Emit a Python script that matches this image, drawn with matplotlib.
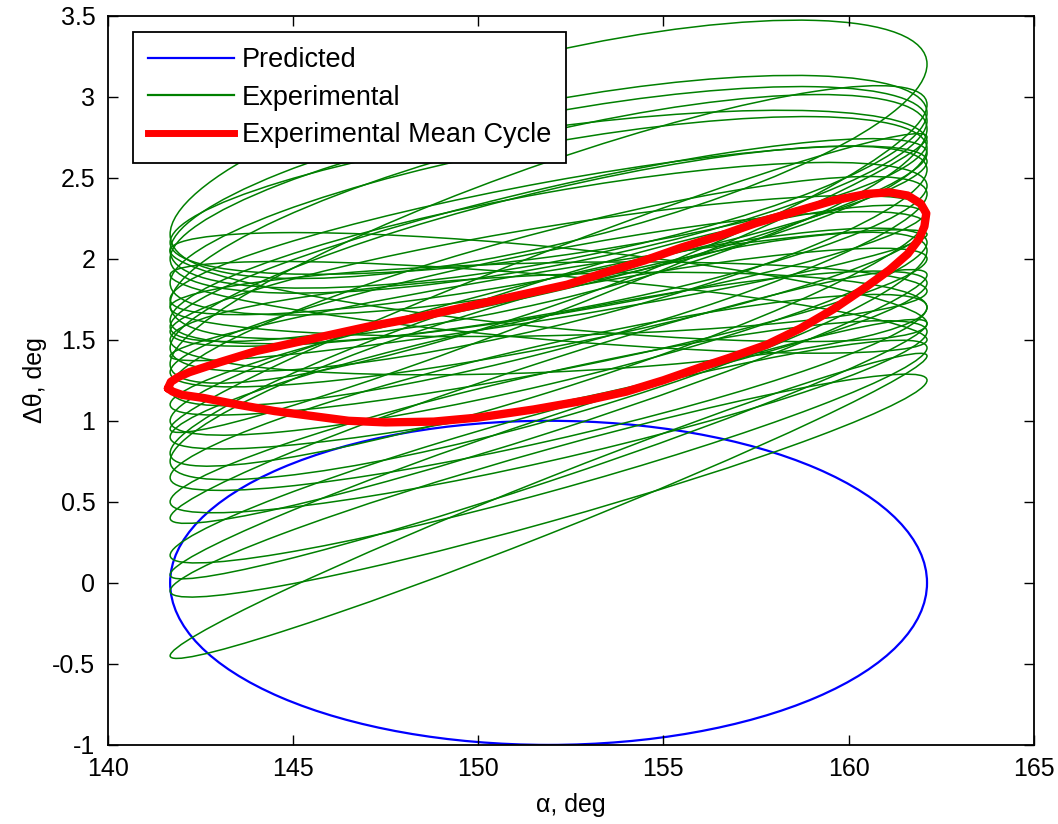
import numpy as np
import matplotlib.pyplot as plt
from matplotlib.patches import Ellipse
from matplotlib.lines import Line2D

plt.rcParams['font.family'] = ['Liberation Sans', 'DejaVu Sans']

# alpha range swept by every cycle
alpha_center = 151.9
alpha_half = 10.22

# predicted cycle: axis aligned ellipse
pred_center = (151.9, 0.0)
pred_width = 20.44
pred_height = 2.0

# experimental cycles: dtheta at the left tip, at the right tip, and
# vertical opening of the loop at mid alpha
exp_left = [2.15, 2.05, 2.00, 1.72, 2.10, 1.85, 1.75, 1.62, 1.55, 1.45,
            1.30, 1.20, 1.10, 1.00, 0.90, 0.80, 0.65, 0.50, 0.40, 0.17,
            0.05, -0.45, -0.05, 2.05, 1.90, 1.70, 1.58, 1.35, 0.95, 1.40,
            0.75, 1.50]
exp_right = [3.20, 2.90, 2.85, 2.80, 2.72, 2.68, 2.60, 2.45, 2.30, 2.55,
             2.20, 2.40, 2.00, 2.10, 1.85, 2.25, 1.70, 1.55, 1.90, 1.45,
             1.60, 1.40, 1.25, 1.60, 1.50, 1.80, 2.65, 2.95, 2.75, 2.15,
             2.05, 1.70]
exp_gap = [1.20, 1.00, 0.95, 1.05, 0.80, 0.90, 0.60, 0.75, 0.55, 0.85,
           0.60, 0.75, 0.50, 0.65, 0.55, 0.70, 0.60, 0.55, 0.45, 0.50,
           0.40, 0.35, 0.45, 0.50, 0.40, 0.45, 0.65, 0.90, 0.40, 0.30,
           0.80, 0.60]

# experimental mean cycle, traced around the loop
mean_alpha = [141.62, 141.7, 141.9, 142.2, 143.0, 144.0, 145.0, 146.0, 147.0,
              148.2, 149.0, 150.0, 151.0, 152.4, 153.5, 154.5, 155.5, 156.5,
              157.5, 158.7, 159.6, 160.5, 161.1, 161.6, 161.95, 162.1, 162.05,
              161.9, 161.6, 161.1, 160.5, 159.6, 158.7, 157.8, 156.8, 156.0,
              155.0, 154.0, 153.0, 151.5, 150.0, 148.8, 147.5, 146.5, 145.5,
              144.5, 143.5, 142.6, 142.0, 141.75, 141.62]
mean_dtheta = [1.20, 1.24, 1.27, 1.30, 1.36, 1.43, 1.48, 1.53, 1.58,
               1.63, 1.67, 1.72, 1.77, 1.84, 1.92, 1.99, 2.07, 2.14,
               2.22, 2.30, 2.36, 2.40, 2.41, 2.39, 2.34, 2.28, 2.20,
               2.12, 2.03, 1.93, 1.83, 1.69, 1.57, 1.47, 1.39, 1.33,
               1.25, 1.18, 1.13, 1.07, 1.02, 0.995, 0.99, 1.00, 1.03,
               1.06, 1.10, 1.14, 1.16, 1.18, 1.20]

x_ticks = [140, 145, 150, 155, 160, 165]
y_ticks = [-1, -0.5, 0, 0.5, 1, 1.5, 2, 2.5, 3, 3.5]
y_tick_labels = ['-1', '-0.5', '0', '0.5', '1', '1.5', '2', '2.5', '3', '3.5']

blue = '#0000ff'
green = '#008000'
red = '#ff0000'


def loop_ellipse(yl, yr, gap):
    # x = xc + a cos t, y = yc + dy cos t + g sin t  ->  ellipse patch params
    dy = (yr - yl) / 2.0
    m = np.array([[alpha_half, 0.0], [dy, gap / 2.0]])
    u, s, vt = np.linalg.svd(m)
    angle = np.degrees(np.arctan2(u[1, 0], u[0, 0]))
    return Ellipse((alpha_center, (yl + yr) / 2.0), 2 * s[0], 2 * s[1],
                   angle=angle, fill=False, edgecolor=green, linewidth=1.1)


fig = plt.figure(figsize=(10.58, 8.24), dpi=100)
ax = fig.add_axes([0.102, 0.096, 0.875, 0.885])

ax.add_patch(Ellipse(pred_center, pred_width, pred_height, fill=False,
                     edgecolor=blue, linewidth=1.6))
for yl, yr, g in zip(exp_left, exp_right, exp_gap):
    ax.add_patch(loop_ellipse(yl, yr, g))
ax.plot(mean_alpha, mean_dtheta, color=red, linewidth=6,
        solid_joinstyle='round', solid_capstyle='round')

ax.set_xlim(140, 165)
ax.set_ylim(-1, 3.5)
ax.set_xticks(x_ticks)
ax.set_xticklabels([str(t) for t in x_ticks])
ax.set_yticks(y_ticks)
ax.set_yticklabels(y_tick_labels)
ax.tick_params(direction='in', top=True, right=True, length=7, width=1,
               labelsize=18, pad=9)
for sp in ax.spines.values():
    sp.set_linewidth(1.3)

ax.set_xlabel('α, deg', fontsize=18, labelpad=8)
ax.set_ylabel('Δθ, deg', fontsize=18, labelpad=4)

handles = [Line2D([], [], color=blue, linewidth=1.6),
           Line2D([], [], color=green, linewidth=1.6),
           Line2D([], [], color=red, linewidth=5)]
leg = ax.legend(handles, ['Predicted', 'Experimental', 'Experimental Mean Cycle'],
                loc='upper left', bbox_to_anchor=(0.027, 0.977), fontsize=19.5,
                fancybox=False, edgecolor='black', framealpha=1,
                handlelength=3.2, borderaxespad=0, labelspacing=0.42,
                handletextpad=0.28, borderpad=0.55)
leg.get_frame().set_linewidth(1.3)

fig.savefig('out.png', dpi=100)
